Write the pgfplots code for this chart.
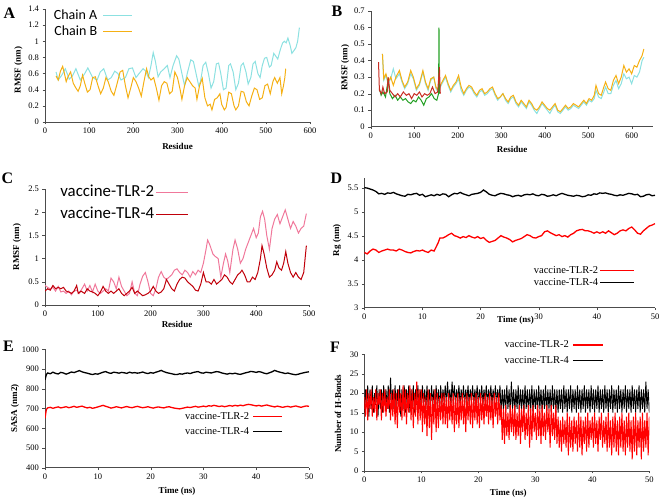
\documentclass[border=0pt]{standalone}
\usepackage{fontspec}
\setmainfont{Liberation Serif}
\newfontfamily\legfont{Carlito}
\usepackage{pgfplots}
\usepackage{pgfplotstable}
\pgfplotsset{compat=1.18}

\definecolor{cyanA}{RGB}{140,225,225}
\definecolor{orangeA}{RGB}{245,176,20}
\definecolor{redB}{RGB}{200,45,35}
\definecolor{greenB}{RGB}{35,160,35}
\definecolor{pinkC}{RGB}{240,120,155}
\definecolor{redC}{RGB}{192,0,10}

\pgfplotsset{
  panel/.style={scale only axis, axis x line*=bottom, axis y line*=left,
    tick align=outside, major tick length=2.5pt,
    axis line style={black!70}, tick style={black!70},
    tick label style={font=\fontsize{8.5}{9}\selectfont},
    label style={font=\fontsize{9}{10}\selectfont\bfseries},
    /pgf/number format/assume math mode=true,
    /pgf/number format/set thousands separator={},
    legend plot pos=right, legend cell align=right,
    legend style={draw=none, fill=none, inner sep=0pt},
  },
}

% H-bond counts, panel F: time (ns), vaccine-TLR-4, vaccine-TLR-2
\pgfplotstableread{
t b r
0 15 19
0.2 21 14
0.4 17 21
0.6 22 13
0.8 14 20
1.0 21 16
1.2 16 21
1.4 22 14
1.6 15 19
1.8 20 15
2.0 17 21
2.2 22 13
2.4 14 20
2.6 21 17
2.8 16 21
3.0 21 13
3.2 15 20
3.4 22 15
3.6 17 21
3.8 21 14
4.0 16 19
4.2 22 16
4.4 15 21
4.6 24 13
4.8 17 20
5.0 21 14
5.2 16 21
5.4 22 12
5.6 15 20
5.8 21 11
6.0 17 21
6.2 22 15
6.4 14 20
6.6 21 13
6.8 16 22
7.0 22 14
7.2 15 21
7.4 21 12
7.6 17 20
7.8 22 15
8.0 15 22
8.2 21 13
8.4 16 21
8.6 22 11
8.8 15 20
9.0 21 14
9.2 17 23
9.4 22 12
9.6 16 21
9.8 21 13
10.0 16 21
10.2 22 10
10.4 17 20
10.6 21 12
10.8 16 19
11.0 22 9
11.2 17 21
11.4 21 11
11.6 16 20
11.8 22 8
12.0 17 19
12.2 21 12
12.4 16 21
12.6 22 10
12.8 17 20
13.0 21 11
13.2 16 19
13.4 22 13
13.6 17 20
13.8 21 12
14.0 18 20
14.2 22 12
14.4 17 19
14.6 23 11
14.8 18 20
15.0 21 13
15.2 17 19
15.4 23 12
15.6 18 20
15.8 22 10
16.0 17 19
16.2 21 12
16.4 18 20
16.6 22 11
16.8 17 19
17.0 21 13
17.2 18 20
17.4 22 12
17.6 17 19
17.8 21 10
18.0 18 20
18.2 22 13
18.4 17 19
18.6 21 12
18.8 18 20
19.0 22 11
19.2 17 19
19.4 21 13
19.6 18 20
19.8 22 12
20.0 17 19
20.2 21 11
20.4 18 20
20.6 22 13
20.8 17 19
21.0 21 12
21.2 18 20
21.4 22 14
21.6 17 19
21.8 21 12
22.0 18 20
22.2 22 13
22.4 17 19
22.6 21 11
22.8 18 20
23.0 22 14
23.2 17 19
23.4 21 12
23.6 18 20
23.8 22 13
24.0 15 17
24.2 21 8
24.4 16 16
24.6 21 7
24.8 15 17
25.0 22 9
25.2 16 15
25.4 21 8
25.6 15 17
25.8 23 10
26.0 16 16
26.2 21 9
26.4 15 17
26.6 21 8
26.8 16 15
27.0 22 9
27.2 15 17
27.4 21 7
27.6 16 16
27.8 21 10
28.0 15 17
28.2 22 8
28.4 16 15
28.6 21 9
28.8 15 17
29.0 21 6
29.2 16 16
29.4 22 8
29.6 15 17
29.8 21 10
30.0 16 15
30.2 21 8
30.4 15 17
30.6 22 9
30.8 16 16
31.0 21 7
31.2 15 17
31.4 21 9
31.6 16 15
31.8 22 8
32.0 15 17
32.2 21 10
32.4 16 16
32.6 21 6
32.8 15 17
33.0 22 9
33.2 16 15
33.4 21 8
33.6 15 17
33.8 21 7
34.0 15 14
34.2 21 6
34.4 16 13
34.6 21 5
34.8 15 14
35.0 22 7
35.2 16 13
35.4 21 6
35.6 15 15
35.8 21 4
36.0 16 14
36.2 22 6
36.4 15 13
36.6 21 5
36.8 16 14
37.0 21 7
37.2 15 13
37.4 22 5
37.6 16 15
37.8 21 6
38.0 15 14
38.2 21 4
38.4 16 13
38.6 22 7
38.8 15 14
39.0 21 5
39.2 16 15
39.4 21 6
39.6 15 13
39.8 22 8
40.0 16 14
40.2 21 6
40.4 15 15
40.6 21 7
40.8 16 13
41.0 22 5
41.2 15 14
41.4 21 8
41.6 16 15
41.8 21 6
42.0 15 13
42.2 22 7
42.4 16 14
42.6 21 5
42.8 15 15
43.0 21 6
43.2 16 13
43.4 22 4
43.6 15 14
43.8 21 6
44.0 16 15
44.2 21 5
44.4 15 13
44.6 22 4
44.8 16 14
45.0 21 6
45.2 15 15
45.4 21 5
45.6 16 13
45.8 22 4
46.0 15 14
46.2 21 6
46.4 16 15
46.6 21 5
46.8 15 13
47.0 22 3
47.2 16 14
47.4 21 5
47.6 15 15
47.8 21 4
48.0 16 13
48.2 22 6
48.4 15 14
48.6 21 3
48.8 16 15
49.0 21 5
49.2 15 13
49.4 23 6
49.6 16 15
49.8 21 4
50.0 15 14
}\hbondtable

\begin{document}
\begin{tikzpicture}[x=1pt,y=1pt]
\useasboundingbox (0,0) rectangle (661,500);

% ---------------- A ----------------
\begin{axis}[panel, at={(45pt,378pt)}, anchor=south west, width=265pt, height=113pt,
  xmin=0, xmax=600, ymin=0, ymax=1.4, xtick={0,100,...,600}, ytick={0,0.2,...,1.4},
  xlabel={Residue}, ylabel={RMSF (nm)},
  xlabel style={at={(axis description cs:0.5,-0.22)}, anchor=center},
  ylabel style={at={(axis description cs:-0.10,0.46)}, anchor=center},
  legend image code/.code={\draw[#1] (0pt,0pt) -- (29pt,0pt);},
  legend style={at={(axis description cs:0.332,1.004)}, anchor=north east,
    font=\legfont\fontsize{14}{14}\selectfont, row sep=2pt, column sep=5pt,
    nodes={inner sep=0.5pt, text height=10pt, text depth=3pt}}]
\addlegendimage{cyanA, line width=1pt}\addlegendentry{Chain A}
\addlegendimage{orangeA, line width=1pt}\addlegendentry{Chain B}
\addplot[cyanA, line width=1pt, forget plot] coordinates {
(25,0.62) (30,0.52) (38,0.58) (46,0.66) (55,0.53) (62,0.57) (70,0.66) (80,0.52)
(90,0.6) (97,0.67) (108,0.55) (118,0.52) (125,0.62) (133,0.66) (142,0.52) (150,0.55)
(158,0.63) (165,0.6) (172,0.52) (182,0.55) (190,0.66) (198,0.67) (206,0.55) (213,0.6)
(222,0.66) (228,0.63) (234,0.55) (240,0.7) (245,0.86) (250,0.75) (256,0.56) (262,0.62)
(270,0.66) (277,0.7) (283,0.55) (290,0.7) (298,0.82) (303,0.78) (310,0.6) (316,0.45)
(322,0.6) (330,0.77) (336,0.75) (342,0.6) (348,0.45) (352,0.5) (358,0.7) (364,0.74)
(370,0.6) (376,0.42) (382,0.5) (388,0.72) (393,0.73) (398,0.6) (404,0.4) (410,0.42)
(416,0.7) (420,0.72) (426,0.62) (432,0.4) (438,0.48) (444,0.7) (449,0.73) (455,0.62)
(460,0.47) (466,0.55) (471,0.72) (476,0.75) (482,0.6) (487,0.55) (492,0.7) (497,0.79)
(502,0.8) (508,0.68) (512,0.7) (518,0.85) (522,0.82) (527,0.78) (533,0.9) (538,0.98)
(542,1.0) (546,0.98) (550,1.04) (555,0.95) (559,0.85) (563,0.88) (568,0.92) (572,1.0) (576,1.17)};
\addplot[orangeA, line width=1pt, forget plot] coordinates {
(25,0.57) (30,0.52) (35,0.63) (40,0.69) (44,0.6) (48,0.5) (52,0.56) (58,0.62)
(64,0.48) (70,0.42) (75,0.38) (80,0.45) (85,0.58) (90,0.48) (96,0.37) (102,0.4)
(108,0.55) (114,0.56) (120,0.45) (126,0.35) (132,0.42) (138,0.55) (143,0.5) (150,0.38)
(156,0.33) (162,0.45) (170,0.62) (176,0.64) (182,0.45) (188,0.3) (194,0.42) (200,0.55)
(206,0.5) (212,0.42) (218,0.32) (224,0.5) (230,0.66) (235,0.56) (240,0.52) (246,0.55)
(252,0.42) (258,0.27) (264,0.45) (270,0.5) (276,0.48) (282,0.35) (288,0.38) (294,0.62)
(300,0.55) (306,0.4) (310,0.28) (316,0.45) (322,0.55) (328,0.5) (334,0.45) (340,0.42)
(344,0.28) (350,0.45) (356,0.54) (362,0.3) (368,0.2) (374,0.22) (378,0.15) (384,0.28)
(390,0.3) (396,0.35) (400,0.22) (406,0.15) (410,0.18) (416,0.37) (422,0.35) (428,0.2)
(432,0.15) (438,0.2) (444,0.38) (450,0.37) (456,0.25) (462,0.2) (468,0.32) (474,0.42)
(480,0.4) (486,0.28) (492,0.3) (498,0.45) (504,0.47) (510,0.35) (516,0.5) (520,0.55)
(526,0.48) (532,0.55) (536,0.35) (540,0.45) (543,0.55) (545,0.66)};
\end{axis}

% ---------------- B ----------------
\begin{axis}[panel, at={(370.7pt,373.3pt)}, anchor=south west, width=282.7pt, height=115.7pt,
  xmin=0, xmax=650, ymin=0, ymax=0.7, xtick={0,100,...,600}, ytick={0,0.1,...,0.7},
  xlabel={Residue}, ylabel={RMSF (nm)},
  xlabel style={at={(axis description cs:0.5,-0.2)}, anchor=center},
  ylabel style={at={(axis description cs:-0.09,0.51)}, anchor=center}]
\addplot[cyanA, line width=1pt] coordinates {
(27,0.44) (30,0.28) (35,0.31) (40,0.26) (46,0.29) (52,0.35) (58,0.29) (66,0.32)
(72,0.27) (78,0.23) (85,0.26) (92,0.32) (98,0.29) (105,0.22) (112,0.25) (120,0.33)
(126,0.26) (132,0.22) (138,0.28) (145,0.3) (150,0.23) (155,0.21) (160,0.24) (166,0.27)
(172,0.3) (178,0.25) (184,0.21) (190,0.24) (196,0.26) (202,0.29) (208,0.22) (214,0.19)
(220,0.22) (226,0.24) (232,0.23) (238,0.2) (244,0.18) (250,0.21) (256,0.22) (262,0.19)
(268,0.2) (274,0.22) (280,0.23) (286,0.19) (292,0.16) (298,0.18) (304,0.2) (310,0.16)
(316,0.14) (322,0.17) (328,0.18) (334,0.14) (340,0.12) (346,0.15) (352,0.13) (358,0.11)
(364,0.15) (370,0.13) (376,0.1) (382,0.08) (388,0.11) (394,0.14) (400,0.12) (406,0.1)
(412,0.08) (418,0.11) (424,0.13) (430,0.09) (436,0.08) (442,0.1) (448,0.12) (454,0.1)
(460,0.11) (466,0.13) (472,0.12) (478,0.11) (484,0.13) (490,0.15) (496,0.13) (502,0.16)
(508,0.15) (514,0.17) (518,0.22) (524,0.18) (530,0.17) (536,0.21) (540,0.24) (546,0.2)
(552,0.2) (558,0.25) (564,0.28) (570,0.23) (576,0.26) (582,0.32) (588,0.29) (594,0.3)
(600,0.26) (606,0.31) (612,0.3) (618,0.33) (624,0.4) (628,0.42)};
\addplot[orangeA, line width=1pt] coordinates {
(27,0.44) (30,0.29) (35,0.32) (40,0.27) (46,0.3) (52,0.25) (58,0.3) (66,0.34)
(72,0.28) (78,0.24) (85,0.27) (92,0.34) (98,0.3) (105,0.23) (112,0.26) (120,0.34)
(126,0.27) (132,0.23) (138,0.29) (145,0.3) (150,0.24) (155,0.22) (160,0.25) (166,0.28)
(172,0.31) (178,0.26) (184,0.22) (190,0.25) (196,0.27) (202,0.31) (208,0.24) (214,0.2)
(220,0.23) (226,0.25) (232,0.24) (238,0.21) (244,0.19) (250,0.22) (256,0.23) (262,0.2)
(268,0.21) (274,0.23) (280,0.24) (286,0.2) (292,0.17) (298,0.18) (304,0.2) (310,0.17)
(316,0.15) (322,0.18) (328,0.19) (334,0.15) (340,0.13) (346,0.16) (352,0.14) (358,0.12)
(364,0.16) (370,0.14) (376,0.11) (382,0.1) (388,0.12) (394,0.15) (400,0.13) (406,0.11)
(412,0.1) (418,0.12) (424,0.14) (430,0.1) (436,0.09) (442,0.11) (448,0.13) (454,0.11)
(460,0.12) (466,0.14) (472,0.13) (478,0.12) (484,0.14) (490,0.16) (496,0.14) (502,0.17)
(508,0.16) (514,0.19) (518,0.25) (524,0.2) (530,0.19) (536,0.24) (540,0.27) (546,0.23)
(552,0.22) (558,0.28) (564,0.31) (570,0.26) (576,0.3) (582,0.37) (588,0.33) (594,0.35)
(600,0.32) (606,0.37) (612,0.36) (618,0.4) (624,0.43) (628,0.47)};
\addplot[greenB, line width=1pt] coordinates {
(20,0.23) (24,0.19) (28,0.21) (34,0.18) (40,0.28) (44,0.2) (50,0.17) (56,0.19)
(62,0.16) (68,0.18) (74,0.16) (80,0.17) (86,0.15) (92,0.14) (98,0.16) (104,0.15)
(110,0.18) (116,0.16) (122,0.13) (128,0.17) (134,0.18) (140,0.2) (146,0.17) (152,0.16)
(156,0.2) (157,0.6) (158,0.2)};
\addplot[redB, line width=1pt] coordinates {
(18,0.39) (20,0.22) (25,0.2) (28,0.24) (32,0.2) (38,0.21) (40,0.3) (44,0.22)
(50,0.2) (56,0.18) (62,0.2) (68,0.18) (75,0.21) (82,0.19) (88,0.2) (94,0.17)
(100,0.2) (106,0.19) (112,0.21) (118,0.18) (124,0.2) (130,0.19) (136,0.2) (142,0.24)
(148,0.2) (154,0.21) (158,0.36) (160,0.2)};
\end{axis}

% ---------------- C ----------------
\begin{axis}[panel, at={(45pt,195pt)}, anchor=south west, width=264pt, height=116pt,
  xmin=0, xmax=500, ymin=0, ymax=2.5, xtick={0,100,...,500}, ytick={0,0.5,...,2.5},
  xlabel={Residue}, ylabel={RMSF (nm)},
  xlabel style={at={(axis description cs:0.5,-0.17)}, anchor=center},
  ylabel style={at={(axis description cs:-0.106,0.5)}, anchor=center},
  legend image code/.code={\draw[#1] (0pt,0pt) -- (32pt,0pt);},
  legend style={at={(axis description cs:0.545,1.046)}, anchor=north east,
    font=\legfont\fontsize{16.8}{16.8}\selectfont, row sep=4pt, column sep=1pt,
    nodes={inner sep=0.5pt, text height=12.5pt, text depth=4pt}}]
\addlegendimage{pinkC, line width=1pt}\addlegendentry{vaccine-TLR-2}
\addlegendimage{redC, line width=1pt}\addlegendentry{vaccine-TLR-4}
\addplot[pinkC, line width=1pt, forget plot] coordinates {
(0,0.42) (5,0.38) (10,0.35) (15,0.38) (20,0.3) (25,0.4) (30,0.28) (35,0.3)
(40,0.25) (45,0.3) (50,0.22) (55,0.3) (60,0.32) (65,0.25) (70,0.35) (75,0.45)
(80,0.3) (85,0.42) (90,0.28) (95,0.45) (100,0.3) (105,0.25) (110,0.3) (115,0.35)
(120,0.3) (125,0.58) (130,0.5) (135,0.35) (140,0.6) (145,0.4) (150,0.3) (155,0.2)
(160,0.25) (165,0.5) (170,0.25) (175,0.2) (180,0.45) (185,0.62) (190,0.7) (195,0.5)
(200,0.25) (205,0.2) (210,0.35) (215,0.6) (220,0.72) (225,0.6) (230,0.55) (235,0.6)
(240,0.65) (245,0.75) (250,0.78) (255,0.7) (260,0.65) (265,0.75) (270,0.7) (275,0.6)
(280,0.72) (285,0.65) (290,0.75) (295,0.7) (300,0.9) (305,1.2) (308,1.4) (312,1.3)
(318,1.1) (322,1.05) (328,1.0) (333,0.6) (338,0.9) (342,1.1) (346,0.95) (350,0.7)
(356,1.2) (360,1.4) (365,1.2) (370,0.9) (375,1.0) (380,1.2) (385,1.35) (390,1.5)
(395,1.65) (400,1.45) (404,1.55) (408,1.9) (412,2.02) (416,1.85) (420,1.5) (425,1.2)
(430,1.65) (435,1.85) (440,1.95) (445,1.75) (450,1.9) (455,2.05) (460,1.85) (465,1.65)
(470,1.8) (475,1.7) (480,1.55) (485,1.65) (490,1.7) (495,1.97)};
\addplot[redC, line width=1pt, forget plot] coordinates {
(0,0.3) (5,0.35) (10,0.32) (15,0.42) (20,0.35) (25,0.38) (30,0.35) (35,0.38)
(40,0.3) (45,0.28) (50,0.25) (55,0.3) (60,0.42) (63,0.25) (68,0.3) (75,0.25)
(80,0.35) (85,0.3) (90,0.28) (95,0.25) (100,0.2) (105,0.28) (110,0.4) (115,0.3)
(120,0.25) (125,0.3) (130,0.25) (135,0.3) (140,0.35) (145,0.25) (150,0.2) (155,0.25)
(160,0.3) (165,0.38) (170,0.25) (175,0.3) (180,0.25) (185,0.2) (190,0.22) (195,0.25)
(200,0.3) (205,0.4) (210,0.3) (215,0.25) (220,0.28) (225,0.35) (230,0.55) (235,0.45)
(240,0.35) (245,0.3) (250,0.45) (255,0.55) (260,0.6) (265,0.58) (270,0.5) (275,0.45)
(280,0.4) (285,0.32) (290,0.3) (295,0.45) (300,0.7) (305,0.5) (310,0.5) (315,0.45)
(320,0.55) (325,0.45) (330,0.5) (335,0.55) (340,0.65) (345,0.6) (350,0.5) (355,0.45)
(360,0.55) (365,0.65) (370,0.7) (373,0.75) (378,0.65) (383,0.5) (388,0.5) (393,0.6)
(398,0.55) (403,0.7) (408,1.0) (411,1.28) (415,1.1) (420,0.8) (425,0.6) (430,0.65)
(435,0.75) (439,0.93) (443,0.8) (448,0.75) (452,0.9) (456,1.15) (460,0.9) (465,0.7)
(470,0.6) (475,0.7) (480,0.6) (485,0.55) (490,0.7) (495,1.28)};
\end{axis}

% ---------------- D ----------------
\begin{axis}[panel, at={(364.3pt,192.3pt)}, anchor=south west, width=290.7pt, height=129.7pt,
  xmin=0, xmax=50, ymin=3, ymax=5.7, xtick={0,10,...,50}, ytick={3,3.5,...,5.5},
  xlabel={Time (ns)}, ylabel={Rg (nm)},
  xlabel style={at={(axis description cs:0.52,-0.095)}, anchor=center},
  ylabel style={at={(axis description cs:-0.094,0.52)}, anchor=center},
  legend image code/.code={\draw[#1] (0pt,0pt) -- (34pt,0pt);},
  legend style={at={(axis description cs:0.931,0.33)}, anchor=north east,
    font=\fontsize{10.5}{10.5}\selectfont, row sep=0pt, column sep=1pt,
    nodes={inner sep=0.5pt, text height=8pt, text depth=2.5pt}}]
\addlegendimage{red, line width=1.2pt}\addlegendentry{vaccine-TLR-2}
\addlegendimage{black, line width=1.2pt}\addlegendentry{vaccine-TLR-4}
\addplot[black, line width=1.3pt, forget plot] coordinates {
(0,5.5) (0.5,5.49) (1,5.47) (1.5,5.45) (2,5.42) (2.5,5.37) (3,5.38) (3.5,5.36) (4,5.39)
(4.5,5.38) (5,5.4) (5.5,5.37) (6,5.35) (6.5,5.33) (7,5.32) (7.5,5.36) (8,5.35) (8.5,5.37)
(9,5.38) (9.5,5.34) (10,5.36) (10.5,5.31) (11,5.33) (11.5,5.35) (12,5.33) (12.5,5.36)
(13,5.34) (13.5,5.37) (14,5.36) (14.5,5.31) (15,5.35) (15.5,5.38) (16,5.37) (16.5,5.4)
(17,5.37) (17.5,5.35) (18,5.33) (18.5,5.36) (19,5.37) (19.5,5.38) (20,5.4) (20.5,5.45)
(21,5.41) (21.5,5.36) (22,5.34) (22.5,5.33) (23,5.36) (23.5,5.38) (24,5.37) (24.5,5.35)
(25,5.34) (25.5,5.31) (26,5.33) (26.5,5.34) (27,5.32) (27.5,5.35) (28,5.36) (28.5,5.35)
(29,5.37) (29.5,5.34) (30,5.33) (30.5,5.36) (31,5.35) (31.5,5.32) (32,5.33) (32.5,5.35)
(33,5.33) (33.5,5.36) (34,5.38) (34.5,5.36) (35,5.34) (35.5,5.33) (36,5.32) (36.5,5.34)
(37,5.33) (37.5,5.31) (38,5.32) (38.5,5.35) (39,5.34) (39.5,5.37) (40,5.36) (40.5,5.39)
(41,5.38) (41.5,5.39) (42,5.37) (42.5,5.36) (43,5.34) (43.5,5.33) (44,5.35) (44.5,5.34)
(45,5.36) (45.5,5.38) (46,5.37) (46.5,5.35) (47,5.36) (47.5,5.31) (48,5.32) (48.5,5.35)
(49,5.36) (49.5,5.33) (50,5.34)};
\addplot[red, line width=1.3pt, forget plot] coordinates {
(0,4.15) (0.5,4.12) (1,4.18) (1.5,4.22) (2,4.2) (2.5,4.15) (3,4.18) (3.5,4.2) (4,4.22)
(4.5,4.2) (5,4.2) (5.5,4.18) (6,4.22) (6.5,4.2) (7,4.17) (7.5,4.15) (8,4.14) (8.5,4.17)
(9,4.19) (9.5,4.18) (10,4.2) (10.5,4.17) (11,4.15) (11.5,4.2) (12,4.18) (12.3,4.25)
(12.7,4.35) (13,4.45) (13.5,4.45) (14,4.48) (14.5,4.52) (15,4.55) (15.5,4.5) (16,4.48)
(16.5,4.45) (17,4.48) (17.5,4.46) (18,4.5) (18.5,4.47) (19,4.45) (19.5,4.48) (20,4.44)
(20.5,4.46) (21,4.4) (21.5,4.36) (22,4.38) (22.5,4.4) (23,4.45) (23.5,4.5) (24,4.47)
(24.5,4.45) (25,4.42) (25.5,4.37) (26,4.4) (26.5,4.42) (27,4.44) (27.5,4.48) (28,4.52)
(28.5,4.5) (29,4.46) (29.5,4.45) (30,4.48) (30.5,4.5) (31,4.58) (31.5,4.6) (32,4.56)
(32.5,4.53) (33,4.5) (33.5,4.52) (34,4.48) (34.5,4.5) (35,4.47) (35.5,4.52) (36,4.55)
(36.5,4.6) (37,4.62) (37.5,4.63) (38,4.6) (38.5,4.6) (39,4.58) (39.5,4.55) (40,4.58)
(40.5,4.55) (41,4.58) (41.5,4.55) (42,4.6) (42.5,4.56) (43,4.52) (43.5,4.55) (44,4.6)
(44.5,4.62) (45,4.6) (45.5,4.65) (46,4.68) (46.5,4.62) (47,4.55) (47.5,4.53) (48,4.6)
(48.5,4.65) (49,4.7) (49.5,4.72) (50,4.75)};
\end{axis}

% ---------------- E ----------------
\begin{axis}[panel, at={(45pt,32.3pt)}, anchor=south west, width=264pt, height=118.4pt,
  xmin=0, xmax=50, ymin=400, ymax=1000, xtick={0,10,...,50}, ytick={400,500,...,1000},
  xlabel={Time (ns)}, ylabel={SASA (nm2)},
  xlabel style={at={(axis description cs:0.5,-0.197)}, anchor=center},
  ylabel style={at={(axis description cs:-0.114,0.5)}, anchor=center},
  legend image code/.code={\draw[#1] (0pt,0pt) -- (29pt,0pt);},
  legend style={at={(axis description cs:0.902,0.48)}, anchor=north east,
    font=\fontsize{10.5}{10.5}\selectfont, row sep=3pt, column sep=3pt,
    nodes={inner sep=0.5pt, text height=8pt, text depth=2.5pt}}]
\addlegendimage{red, line width=1.2pt}\addlegendentry{vaccine-TLR-2}
\addlegendimage{black, line width=1.2pt}\addlegendentry{vaccine-TLR-4}
\addplot[black, line width=1.3pt, forget plot] coordinates {
(0,845) (0.25,872) (0.5,880) (1,876) (1.5,884) (2,878) (2.5,875) (3,883) (3.5,880)
(4,874) (4.5,879) (5,885) (5.5,882) (6,887) (6.5,892) (7,886) (7.5,882) (8,879) (8.5,875)
(9,872) (9.5,876) (10,874) (10.5,879) (11,884) (11.5,887) (12,881) (12.5,878) (13,884)
(13.5,882) (14,879) (14.5,883) (15,881) (15.5,878) (16,884) (16.5,880) (17,882) (17.5,879)
(18,881) (18.5,885) (19,880) (19.5,877) (20,882) (20.5,879) (21,884) (21.5,888) (22,893)
(22.5,887) (23,882) (23.5,879) (24,876) (24.5,873) (25,872) (25.5,876) (26,874) (26.5,878)
(27,880) (27.5,877) (28,882) (28.5,885) (29,887) (29.5,881) (30,879) (30.5,884) (31,882)
(31.5,880) (32,884) (32.5,887) (33,885) (33.5,880) (34,877) (34.5,874) (35,878) (35.5,876)
(36,879) (36.5,875) (37,873) (37.5,877) (38,881) (38.5,884) (39,888) (39.5,886) (40,883)
(40.5,887) (41,884) (41.5,879) (42,876) (42.5,881) (43,886) (43.5,893) (44,888) (44.5,884)
(45,881) (45.5,877) (46,880) (46.5,876) (47,873) (47.5,871) (48,874) (48.5,878) (49,881)
(49.5,884) (50,886)};
\addplot[red, line width=1.3pt, forget plot] coordinates {
(0,650) (0.25,695) (0.5,703) (1,706) (1.5,701) (2,705) (2.5,708) (3,703) (3.5,706)
(4,709) (4.5,704) (5,707) (5.5,711) (6,706) (6.5,709) (7,712) (7.5,707) (8,703) (8.5,706)
(9,701) (9.5,704) (10,708) (10.5,712) (11,716) (11.5,711) (12,707) (12.5,702) (13,705)
(13.5,709) (14,706) (14.5,703) (15,707) (15.5,710) (16,706) (16.5,704) (17,708) (17.5,711)
(18,707) (18.5,704) (19,706) (19.5,709) (20,705) (20.5,702) (21,706) (21.5,708) (22,705)
(22.5,703) (23,707) (23.5,709) (24,705) (24.5,702) (25,700) (25.5,698) (26,701) (26.5,704)
(27,707) (27.5,705) (28,708) (28.5,711) (29,707) (29.5,709) (30,712) (30.5,709) (31,714)
(31.5,712) (32,716) (32.5,713) (33,710) (33.5,713) (34,709) (34.5,712) (35,715) (35.5,712)
(36,716) (36.5,713) (37,717) (37.5,714) (38,718) (38.5,721) (39,719) (39.5,716) (40,713)
(40.5,716) (41,712) (41.5,715) (42,718) (42.5,714) (43,711) (43.5,708) (44,712) (44.5,709)
(45,706) (45.5,709) (46,711) (46.5,707) (47,710) (47.5,713) (48,709) (48.5,706) (49,710)
(49.5,713) (50,711)};
\end{axis}

% ---------------- F ----------------
\begin{axis}[panel, at={(364.3pt,29pt)}, anchor=south west, width=285pt, height=116.7pt,
  xmin=0, xmax=50, ymin=0, ymax=30, xtick={0,10,...,50}, ytick={0,5,...,30},
  xlabel={Time (ns)}, ylabel={Number of H-Bonds},
  xlabel style={at={(axis description cs:0.505,-0.19)}, anchor=center},
  ylabel style={at={(axis description cs:-0.092,0.49)}, anchor=center},
  legend image code/.code={\draw[#1] (0pt,0pt) -- (30pt,0pt);},
  legend style={at={(axis description cs:0.84,1.13)}, anchor=north east,
    font=\fontsize{10.5}{10.5}\selectfont, row sep=4pt, column sep=3pt,
    nodes={inner sep=0.5pt, text height=8pt, text depth=2.5pt}}]
\addlegendimage{red, line width=1.2pt}\addlegendentry{vaccine-TLR-2}
\addlegendimage{black, line width=1.2pt}\addlegendentry{vaccine-TLR-4}
\addplot[black, line width=0.9pt, forget plot] table[x=t, y=b] {\hbondtable};
\addplot[red, line width=1pt, forget plot] table[x=t, y=r] {\hbondtable};
\end{axis}

% panel letters
\node[font=\fontsize{16}{16}\selectfont\bfseries] at (9.5,487) {A};
\node[font=\fontsize{16}{16}\selectfont\bfseries] at (337,489) {B};
\node[font=\fontsize{16}{16}\selectfont\bfseries] at (7.5,321.5) {C};
\node[font=\fontsize{16}{16}\selectfont\bfseries] at (336.5,321.5) {D};
\node[font=\fontsize{16}{16}\selectfont\bfseries] at (8.5,153.5) {E};
\node[font=\fontsize{16}{16}\selectfont\bfseries] at (335,152.5) {F};
\end{tikzpicture}
\end{document}
